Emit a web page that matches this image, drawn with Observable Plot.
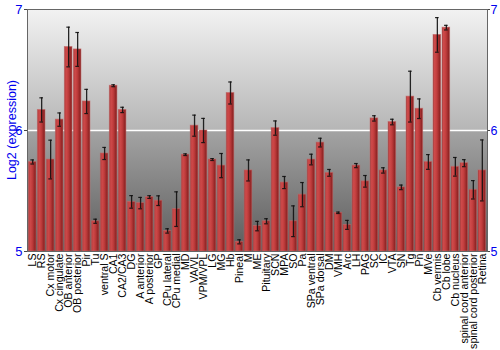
<!DOCTYPE html>
<html>
<head>
<meta charset="utf-8">
<script src="https://cdn.jsdelivr.net/npm/d3@7"></script>
<script src="https://cdn.jsdelivr.net/npm/@observablehq/plot@0.6"></script>
<style>
  body { margin: 0; background: white; }
  #chart svg { display: block; }
</style>
</head>
<body>
<div id="chart"></div>
<script>
const regions = ["LS","RS","Cx motor","Cx cingulate","OB anterior","OB posterior","Pir","Tu","ventral S","CA1","CA2/CA3","DG","A anterior","A posterior","GP","CPu lateral","CPu medial","MD","VA/VL","VPM/VPL","LG","MG","Hb","Pineal","M","ME","Pituitary","SCN","MPA","SO","Pa","SPa ventral","SPa dorsal","DM","VMH","Arc","LH","PAG","SC","IC","VTA","SN","Tg","Pn","MVe","Cb vermis","Cb lobe","Cb nucleus","spinal cord anterior","spinal cord posterior","Retina"];
const expression = [5.74,6.17,5.76,6.09,6.69,6.67,6.24,5.25,5.81,6.37,6.17,5.41,5.40,5.45,5.42,5.17,5.35,5.80,6.04,6.00,5.76,5.71,6.31,5.08,5.67,5.21,5.25,6.02,5.57,5.25,5.47,5.76,5.90,5.65,5.32,5.22,5.71,5.58,6.10,5.67,6.07,5.53,6.28,6.18,5.74,6.79,6.85,5.70,5.73,5.51,5.67];
const errors = [0.017,0.10,0.16,0.055,0.164,0.14,0.10,0.017,0.05,0.008,0.022,0.052,0.047,0.011,0.04,0.018,0.143,0.007,0.087,0.10,0.008,0.10,0.091,0.017,0.087,0.039,0.021,0.059,0.05,0.127,0.10,0.044,0.036,0.028,0.006,0.037,0.017,0.048,0.022,0.022,0.023,0.019,0.21,0.081,0.061,0.143,0.019,0.077,0.029,0.076,0.252];
const yTicks = [5, 6, 7];
const yDomain = [5, 7];
const gridAt = [6];
const bgBands = [{lo: 5, hi: 6, grad: "bgLow"}, {lo: 6, hi: 7, grad: "bgHigh"}];
const yLabel = "Log2 (expression)";

const data = regions.map((r, i) => ({region: r, value: expression[i], err: errors[i]}));

const axisColor = "#0000ee";

const plot = Plot.plot({
  width: 500,
  height: 350,
  marginLeft: 27,
  marginRight: 13,
  marginTop: 9,
  marginBottom: 99,
  style: {fontFamily: "'Liberation Sans', Arial, sans-serif", background: "white", overflow: "visible"},
  x: {domain: regions, padding: 0.15, label: null},
  y: {domain: yDomain, label: null},
  marks: [
    Plot.rect(bgBands, {y1: "lo", y2: "hi", fill: d => `url(#${d.grad})`}),
    Plot.ruleY(gridAt, {stroke: "white", strokeWidth: 1.5}),
    Plot.barY(data, {x: "region", y1: yDomain[0], y2: "value", fill: "url(#barGrad)", stroke: "#c46a6a", strokeOpacity: 0.7, strokeWidth: 0.8}),
    Plot.ruleX(data, {x: "region", y1: d => d.value - d.err, y2: d => d.value + d.err, stroke: "#111", strokeWidth: 1.3, strokeOpacity: 0.9}),
    Plot.tickY(data, {x: "region", y: d => d.value - d.err, stroke: "#111", strokeWidth: 1.2, insetLeft: 2, insetRight: 2, strokeOpacity: 0.9}),
    Plot.tickY(data, {x: "region", y: d => d.value + d.err, stroke: "#111", strokeWidth: 1.2, insetLeft: 2, insetRight: 2, strokeOpacity: 0.9}),
    Plot.frame({stroke: "#666", strokeWidth: 1}),
    Plot.axisY({anchor: "left", ticks: yTicks, tickFormat: d => String(d), tickSize: 3, tickPadding: 2, color: axisColor, stroke: "#444", fontSize: 13, label: null}),
    Plot.axisY({anchor: "right", ticks: yTicks, tickFormat: d => String(d), tickSize: 2, tickPadding: 1, color: axisColor, stroke: "#444", fontSize: 12.5, label: null}),
    Plot.axisX({tickRotate: -90, tickSize: 0, tickPadding: 2, fontSize: 10.6, color: "black", label: null})
  ]
});

// gradients
const svg = d3.select(plot);
const defs = svg.insert("defs", ":first-child");
const bg1 = defs.append("linearGradient").attr("id", "bgHigh").attr("x1", 0).attr("x2", 0).attr("y1", 0).attr("y2", 1);
bg1.append("stop").attr("offset", "0%").attr("stop-color", "#f2f2f2");
bg1.append("stop").attr("offset", "100%").attr("stop-color", "#b6b6b6");
const bg2 = defs.append("linearGradient").attr("id", "bgLow").attr("x1", 0).attr("x2", 0).attr("y1", 0).attr("y2", 1);
bg2.append("stop").attr("offset", "0%").attr("stop-color", "#a4a4a4");
bg2.append("stop").attr("offset", "100%").attr("stop-color", "#5c5c5c");
const bar = defs.append("linearGradient").attr("id", "barGrad").attr("x1", 0).attr("x2", 1).attr("y1", 0).attr("y2", 0);
bar.append("stop").attr("offset", "0%").attr("stop-color", "#9a2a2a");
bar.append("stop").attr("offset", "20%").attr("stop-color", "#cf4b4b");
bar.append("stop").attr("offset", "50%").attr("stop-color", "#c13d3d");
bar.append("stop").attr("offset", "100%").attr("stop-color", "#801c1c");

// y-axis title
svg.append("text")
  .attr("transform", "translate(13,130) rotate(-90)")
  .attr("text-anchor", "middle")
  .attr("dominant-baseline", "middle")
  .attr("fill", axisColor)
  .attr("font-size", 12.5)
  .text(yLabel);

document.getElementById("chart").appendChild(plot);
</script>
</body>
</html>
